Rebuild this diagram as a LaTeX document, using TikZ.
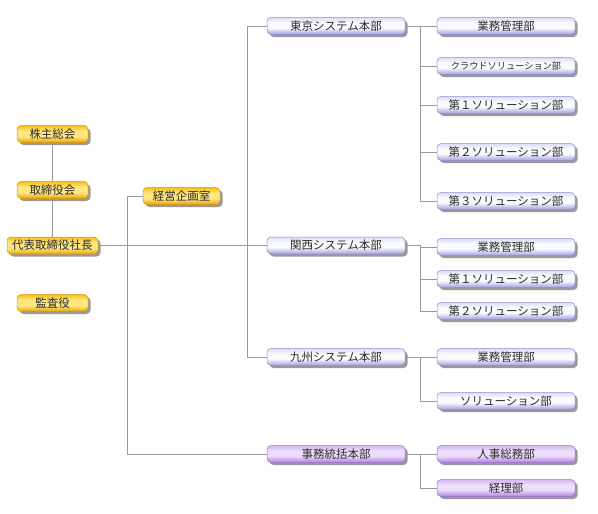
\documentclass[tikz,border=0pt]{standalone}
\usepackage{fontspec}
\newfontfamily\jp{Noto Sans CJK JP}
\usetikzlibrary{shadows}
\definecolor{gtop}{HTML}{F5BE10}
\definecolor{gmid}{HTML}{FFE680}
\definecolor{gbot}{HTML}{E9A200}
\definecolor{gedge}{HTML}{D49A00}
\definecolor{btop}{HTML}{DCDCF8}
\definecolor{bmid}{HTML}{FBFBFF}
\definecolor{bbot}{HTML}{9E9EE2}
\definecolor{bedge}{HTML}{8E8ED0}
\definecolor{ptop}{HTML}{D6B8F2}
\definecolor{pmid}{HTML}{EEDDFB}
\definecolor{pbot}{HTML}{B182E0}
\definecolor{pedge}{HTML}{9E70D0}
\definecolor{linec}{HTML}{9A9A9A}
\definecolor{txt}{HTML}{2A2A2A}
\pgfdeclareverticalshading{goldsh}{100bp}{color(0bp)=(gbot); color(25bp)=(gbot); color(42bp)=(gmid); color(60bp)=(gmid); color(75bp)=(gtop); color(100bp)=(gtop)}
\pgfdeclareverticalshading{bluesh}{100bp}{color(0bp)=(bbot); color(25bp)=(bbot); color(45bp)=(bmid); color(60bp)=(bmid); color(75bp)=(btop); color(100bp)=(btop)}
\pgfdeclareverticalshading{purpsh}{100bp}{color(0bp)=(pbot); color(25bp)=(pbot); color(45bp)=(pmid); color(60bp)=(pmid); color(75bp)=(ptop); color(100bp)=(ptop)}
\tikzset{
  box/.style={rounded corners=4pt, minimum height=17pt, inner sep=0pt,
    text=txt, font=\jp\fontsize{11.5pt}{12pt}\selectfont, line width=0.5pt,
    drop shadow={shadow xshift=2.5pt, shadow yshift=-2.5pt, fill=black!50, opacity=0.8}},
  gold/.style={box, shading=goldsh, draw=gedge},
  blue/.style={box, shading=bluesh, draw=bedge, minimum width=138pt},
  purp/.style={box, shading=purpsh, draw=pedge, minimum width=138pt},
  conn/.style={draw=linec, line width=0.8pt}
}
\begin{document}
\begin{tikzpicture}[x=1pt, y=-1pt]
\useasboundingbox[fill=white] (0,0) rectangle (598,514);
% coordinates for trunks
\coordinate (lx) at (127,0);
\coordinate (mx) at (247,0);
\coordinate (rx) at (420,0);
% left column
\node[gold, minimum width=71pt] (kabu) at (52.5,134) {株主総会};
\node[gold, minimum width=71pt] (tori) at (52.5,190) {取締役会};
\node[gold, minimum width=91pt] (dai) at (52.5,245.5) {代表取締役社長};
\node[gold, minimum width=71pt] (kansa) at (52.5,303) {監査役};
\node[gold, minimum width=77pt] (keiei) at (181.5,196) {経営企画室};
% HQs
\node[blue] (tokyo) at (336,26) {東京システム本部};
\node[blue] (kansai) at (336,245.5) {関西システム本部};
\node[blue] (kyushu) at (336,357) {九州システム本部};
\node[purp] (jimu) at (336,454) {事務統括本部};
% leaves
\node[blue] (t1) at (506,26) {業務管理部};
\node[blue, font=\jp\fontsize{9.2pt}{10pt}\selectfont] (t2) at (506,66) {クラウドソリューション部};
\node[blue] (t3) at (506,105) {第１ソリューション部};
\node[blue] (t4) at (506,152) {第２ソリューション部};
\node[blue] (t5) at (506,201) {第３ソリューション部};
\node[blue] (k1) at (506,247) {業務管理部};
\node[blue] (k2) at (506,279) {第１ソリューション部};
\node[blue] (k3) at (506,311) {第２ソリューション部};
\node[blue] (q1) at (506,357) {業務管理部};
\node[blue] (q2) at (506,401) {ソリューション部};
\node[purp] (j1) at (506,454) {人事総務部};
\node[purp] (j2) at (506,488) {経理部};
% connectors
\path[conn] (kabu) -- (tori) -- (dai);
\path[conn] (dai.east) -- (kansai.west);
\path[conn] (tokyo.west) -- (tokyo.west -| mx) |- (kyushu.west);
\path[conn] (keiei.west) -- (keiei.west -| lx) |- (jimu.west);
% tokyo group
\path[conn] (tokyo.east) -- (t1.west);
\path[conn] (tokyo.east -| rx) |- (t5.west);
\path[conn] (rx |- t2.west) -- (t2.west);
\path[conn] (rx |- t3.west) -- (t3.west);
\path[conn] (rx |- t4.west) -- (t4.west);
% kansai group
\path[conn] (kansai.east) -- (kansai.east -| rx) |- (k3.west);
\path[conn] (rx |- k1.west) -- (k1.west);
\path[conn] (rx |- k2.west) -- (k2.west);
% kyushu group
\path[conn] (kyushu.east) -- (kyushu.east -| rx) |- (q2.west);
\path[conn] (rx |- q1.west) -- (q1.west);
% jimu group
\path[conn] (jimu.east) -- (jimu.east -| rx) |- (j2.west);
\path[conn] (rx |- j1.west) -- (j1.west);
\end{tikzpicture}
\end{document}
